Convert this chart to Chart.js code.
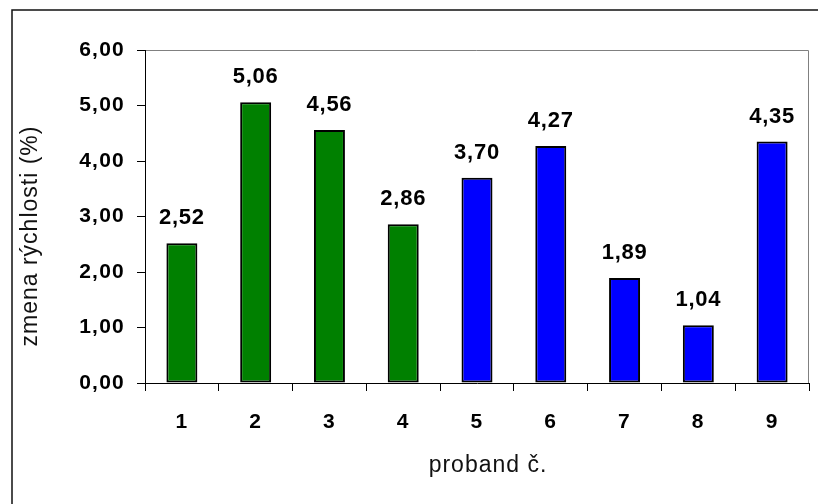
<!DOCTYPE html>
<html>
<head>
<meta charset="utf-8">
<script src="https://cdn.jsdelivr.net/npm/chart.js@4/dist/chart.umd.min.js"></script>
<style>
  html, body { margin: 0; padding: 0; background: #ffffff; }
  canvas { display: block; }
</style>
</head>
<body>
<canvas id="c" width="818" height="504"></canvas>
<script>
// Proband numbers and measured speed change (%)
const probands = ['1', '2', '3', '4', '5', '6', '7', '8', '9'];
const speedChange = [2.52, 5.06, 4.56, 2.86, 3.70, 4.27, 1.89, 1.04, 4.35];
const barColors = ['#008000', '#008000', '#008000', '#008000',
                   '#0000ff', '#0000ff', '#0000ff', '#0000ff', '#0000ff'];
const yTicks = [0, 1, 2, 3, 4, 5, 6];
const yTitle = 'zmena rýchlosti (%)';
const xTitle = 'proband č.';

const fmt = v => v.toFixed(2).replace('.', ',');
const FONT = '"Liberation Sans", Arial, sans-serif';
const SPACING = '1.25px';

// Slightly widened lettering for tick labels
const spacingPlugin = {
  id: 'spacing',
  beforeUpdate(chart) { chart.ctx.letterSpacing = SPACING; },
  beforeLayout(chart) { chart.ctx.letterSpacing = SPACING; },
  beforeDraw(chart) { chart.ctx.letterSpacing = SPACING; }
};

// Outer frame and grey plot-area edges
const framePlugin = {
  id: 'frame',
  beforeDraw(chart) {
    const ctx = chart.ctx;
    const a = chart.chartArea;
    ctx.save();
    ctx.fillStyle = '#ffffff';
    ctx.fillRect(0, 0, chart.width, chart.height);
    ctx.strokeStyle = '#111111';
    ctx.lineWidth = 1.5;
    ctx.strokeRect(12, 10, 900, 700);
    ctx.strokeStyle = '#808080';
    ctx.lineWidth = 1;
    ctx.beginPath();
    ctx.moveTo(a.left, a.top + 0.5);
    ctx.lineTo(a.right - 0.5, a.top + 0.5);
    ctx.lineTo(a.right - 0.5, a.bottom);
    ctx.stroke();
    ctx.restore();
  }
};

// Value labels above each bar and the two axis titles
const labelPlugin = {
  id: 'labels',
  afterDraw(chart) {
    const ctx = chart.ctx;
    ctx.save();
    ctx.letterSpacing = '0.75px';
    ctx.fillStyle = '#000000';
    ctx.font = 'bold 22px ' + FONT;
    ctx.textAlign = 'center';
    ctx.textBaseline = 'alphabetic';
    const meta = chart.getDatasetMeta(0);
    meta.data.forEach((bar, i) => {
      ctx.fillText(fmt(speedChange[i]), bar.x, bar.y - 19);
    });

    ctx.letterSpacing = '1px';
    ctx.font = '23px ' + FONT;
    ctx.fillStyle = '#111111';
    ctx.textBaseline = 'middle';
    ctx.fillText(xTitle, 488, 466);

    ctx.translate(31, 236);
    ctx.rotate(-Math.PI / 2);
    ctx.fillText(yTitle, 0, 0);
    ctx.restore();
  }
};

new Chart(document.getElementById('c'), {
  type: 'bar',
  data: {
    labels: probands,
    datasets: [{
      data: speedChange,
      backgroundColor: barColors,
      borderColor: '#000000',
      borderWidth: 2,
      borderSkipped: false,
      barPercentage: 0.42,
      categoryPercentage: 1.0
    }]
  },
  options: {
    responsive: false,
    animation: false,
    devicePixelRatio: 1,
    layout: { padding: { left: 0, top: 50, right: 9, bottom: 0 } },
    plugins: {
      legend: { display: false },
      tooltip: { enabled: false },
      title: { display: false }
    },
    scales: {
      x: {
        offset: true,
        grid: {
          offset: true,
          drawOnChartArea: false,
          drawTicks: true,
          tickLength: 8,
          color: '#000000'
        },
        border: { display: true, color: '#000000', width: 1 },
        ticks: {
          color: '#000000',
          font: { family: FONT, size: 21, weight: 'bold' },
          padding: 19,
          maxRotation: 0,
          autoSkip: false
        },
        afterFit(scale) { scale.height = 504 - 383; }
      },
      y: {
        min: 0,
        max: 6,
        afterBuildTicks(scale) { scale.ticks = yTicks.map(v => ({ value: v })); },
        grid: {
          drawOnChartArea: false,
          drawTicks: true,
          tickLength: 8,
          color: '#000000'
        },
        border: { display: true, color: '#000000', width: 1 },
        ticks: {
          color: '#000000',
          font: { family: FONT, size: 21, weight: 'bold' },
          padding: 12,
          callback: v => fmt(v)
        },
        afterFit(scale) { scale.width = 145; }
      }
    }
  },
  plugins: [spacingPlugin, framePlugin, labelPlugin]
});
</script>
</body>
</html>
